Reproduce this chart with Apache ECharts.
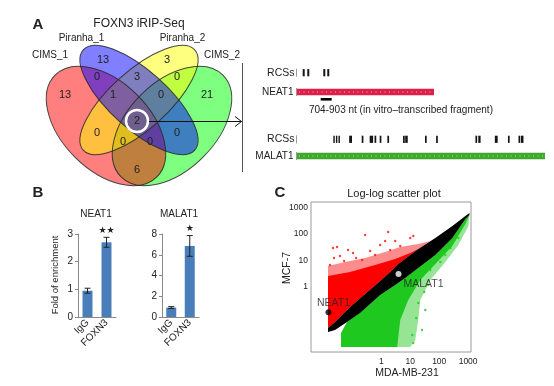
<!DOCTYPE html>
<html><head><meta charset="utf-8">
<script src="https://cdn.jsdelivr.net/npm/echarts@6/dist/echarts.min.js"></script>
<style>html,body{margin:0;padding:0;background:#fff}#c{width:554px;height:386px}</style>
</head><body><div id="c"></div>
<script>
// ================= DATA =================
// Panel A – Venn diagram (FOXN3 iRIP-Seq)
const vennTitle = 'FOXN3 iRIP-Seq';
const vennSetNames = ['CIMS_1', 'Piranha_1', 'Piranha_2', 'CIMS_2'];
// region keys: membership in [CIMS_1, Piranha_1, Piranha_2, CIMS_2]
const vennRegionKeys = ['1000','0100','0010','0001','1100','0110','0011','1110','0111','1111','1010','0101','1011','1101','1001'];
const vennRegionCounts = [13, 13, 3, 21, 0, 3, 0, 1, 0, 2, 0, 0, 0, 0, 6];

// Panel A – transcript tracks (positions in nt)
const trackGenes = ['NEAT1', 'MALAT1'];
const trackLengths = [4806, 8700];
const neat1RCS = [[200, 270], [361, 431], [922, 992], [1062, 1132]];
const malat1RCS = [[1275, 1325], [1365, 1415], [1455, 1505], [1830, 1930], [2270, 2330], [2550, 2670], [2720, 2780],
  [2900, 2960], [3170, 3230], [3720, 3780], [3795, 3885], [4490, 4550], [4880, 4940], [6260, 6320], [6360, 6440],
  [6940, 7040], [7400, 7460], [7770, 7830], [7855, 7945]];
const fragmentRange = [831, 1217];
const fragmentLabel = '704-903 nt (in vitro\u2013transcribed fragment)';
const rcsLabel = 'RCSs';

// Panel B – fold of enrichment
const ripCategories = ['IgG', 'FOXN3'];
const ripTitles = ['NEAT1', 'MALAT1'];
const neat1Fold = [0.95, 2.70];
const neat1Err = [0.09, 0.18];
const neat1Sig = ['', '\u2605\u2605'];
const malat1Fold = [0.91, 6.85];
const malat1Err = [0.09, 1.00];
const malat1Sig = ['', '\u2605'];
const neat1Axis = { min: 0, max: 3, interval: 1 };
const malat1Axis = { min: 0, max: 8, interval: 2 };

// Panel C – log-log scatter (log10 expression values)
const scatterTicks = [1, 10, 100, 1000];
const blackBand = [[-1.851,-1.541],[-1.608,-1.316],[-1.087,-0.752],[-0.566,-0.263],[-0.045,0.226],[0.302,0.564],[0.580,0.865],
  [1.274,1.429],[1.865,1.842],[2.455,2.293],[2.906,2.669],[3.045,2.782],[3.045,2.707],[2.906,2.556],[2.455,1.842],[1.865,1.203],
  [1.274,0.714],[0.823,0.338],[0.476,0.075],[-0.045,-0.301],[-0.740,-0.977],[-1.191,-1.316],[-1.608,-1.617],[-1.851,-1.692]];
const redOuter = [[-1.851,-1.617],[-1.851,0.789],[-1.260,0.940],[-0.566,1.090],[0.128,1.316],[0.649,1.504],[1.274,1.617],
  [1.691,1.729],[1.274,1.429],[0.580,0.865],[0.302,0.564],[-0.045,0.226],[-0.566,-0.263],[-1.087,-0.752],[-1.608,-1.316],[-1.851,-1.541]];
const redCore = [[-1.851,-1.617],[-1.851,0.414],[-1.087,0.564],[-0.219,0.827],[0.476,1.053],[0.997,1.278],[1.274,1.429],
  [0.580,0.865],[0.302,0.564],[-0.045,0.226],[-0.566,-0.263],[-1.087,-0.752],[-1.608,-1.316],[-1.851,-1.541]];
const greenOuter = [[-1.399,-2.256],[-1.399,-1.729],[-1.191,-1.316],[-0.740,-0.977],[-0.045,-0.301],[0.476,0.075],[0.823,0.338],
  [1.274,0.714],[1.865,1.203],[2.455,1.842],[2.906,2.556],[3.045,2.707],[3.010,2.293],[2.663,1.579],[2.212,0.940],[1.691,0.263],
  [1.344,-0.489],[1.274,-1.241],[1.170,-1.992],[0.997,-2.256]];
const greenCore = [[-1.399,-2.256],[-1.399,-1.729],[-1.191,-1.316],[-0.740,-0.977],[-0.045,-0.301],[0.476,0.075],[0.823,0.338],
  [1.274,0.714],[1.865,1.203],[2.455,1.842],[2.906,2.556],[3.045,2.707],[2.906,2.368],[2.455,1.541],[1.865,0.865],[1.344,0.263],
  [0.927,-0.489],[0.649,-1.241],[0.545,-2.256]];
const redSparse = [[-1.677,1.466],[-1.538,1.504],[-0.566,1.955],[-1.156,1.391],[-0.983,1.278],[-0.392,1.353],[-0.045,1.579],
  [0.128,1.729],[-1.434,1.165],[-0.670,1.015],[-1.781,0.827],[0.476,1.729],[0.997,1.842],[1.101,1.917],[-0.219,1.203],
  [-0.878,1.090],[-1.295,0.977],[0.302,1.391],[0.649,1.541],[-1.642,1.090],[0.233,2.068]];
const greenSparse = [[2.097,1.353],[1.865,0.977],[1.403,0.650],[1.274,-0.602],[1.403,-1.617],[1.101,-2.105],[1.622,0.075],
  [1.517,-0.865],[2.212,1.203],[2.385,1.466],[1.691,0.639],[1.205,-1.165],[1.483,-0.188],[1.066,-1.805],[2.663,1.842],[2.038,0.940]];
const highlightGenes = [{ name: 'NEAT1', value: [-1.835, -0.950] }, { name: 'MALAT1', value: [0.590, 0.489] }];
const scatterTitle = 'Log-log scatter plot';
const scatterXName = 'MDA-MB-231';
const scatterYName = 'MCF-7';

// ================= LAYOUT / STYLE =================
const FONT = '"Liberation Sans", Arial, Helvetica, sans-serif';
const TXT = '#222';
const vennEllipses = [ // drawing order
  { set: 3, cx: 172, cy: 126, rx: 72, ry: 44, rot: 45, color: 'rgba(0,255,0,0.5)' },
  { set: 0, cx: 106, cy: 126, rx: 72, ry: 44, rot: -45, color: 'rgba(255,0,0,0.5)' },
  { set: 2, cx: 139, cy: 100, rx: 75, ry: 29, rot: 42, color: 'rgba(255,255,0,0.5)' },
  { set: 1, cx: 139, cy: 100, rx: 75, ry: 29, rot: -42, color: 'rgba(0,0,255,0.5)' }
];
const vennSetLabelPos = [[50, 55], [81.5, 38], [182.5, 38], [222, 55]];
const vennRegionPos = [[65,95],[103,60],[167,60],[207,95],[97,77],[137,77],[177,77],[113,95],[161,95],[137,121],[97,133],[177,133],[123,142],[150,142],[137,170]];
const trackRowY = { rcs: [72.7, 139.3], gene: [92, 156], frag: 99.3, fragLabel: 110 };
const trackColors = ['#de1f4b', '#3fa92c'];
const trackDash = ['rgba(255,185,200,0.9)', 'rgba(185,235,165,0.9)'];

function txt(x, y, text, font, align, valign, extra) {
  return Object.assign({ type: 'text', x: x, y: y, silent: true,
    style: { text: text, font: font, fill: TXT, textAlign: align || 'center', textVerticalAlign: valign || 'middle',
             align: align || 'center', verticalAlign: valign || 'middle' } }, extra || {});
}

const graphics = [];
vennEllipses.forEach(e => graphics.push({ type: 'ellipse', x: e.cx, y: e.cy, rotation: e.rot * Math.PI / 180, silent: true,
  shape: { cx: 0, cy: 0, rx: e.rx, ry: e.ry }, style: { fill: e.color } }));
vennEllipses.forEach(e => graphics.push({ type: 'ellipse', x: e.cx, y: e.cy, rotation: e.rot * Math.PI / 180, silent: true,
  shape: { cx: 0, cy: 0, rx: e.rx, ry: e.ry }, style: { fill: 'none', stroke: 'rgba(40,40,40,0.85)', lineWidth: 1 } }));
vennRegionCounts.forEach((c, i) => graphics.push(txt(vennRegionPos[i][0], vennRegionPos[i][1], String(c), '11px ' + FONT)));
vennSetNames.forEach((n, i) => graphics.push(txt(vennSetLabelPos[i][0], vennSetLabelPos[i][1], n, '10px ' + FONT)));
graphics.push(txt(139, 24, vennTitle, '12px ' + FONT));
graphics.push(txt(38, 25, 'A', 'bold 15px ' + FONT));
graphics.push(txt(38, 193, 'B', 'bold 15px ' + FONT));
graphics.push(txt(280, 193, 'C', 'bold 15px ' + FONT));
graphics.push({ type: 'circle', silent: true, shape: { cx: 137, cy: 121, r: 11 }, style: { fill: 'none', stroke: '#fff', lineWidth: 2.5 } });
graphics.push({ type: 'line', silent: true, shape: { x1: 149, y1: 121.5, x2: 241.5, y2: 121.5 }, style: { stroke: '#111', lineWidth: 1 } });
graphics.push({ type: 'polyline', silent: true, shape: { points: [[235, 116.5], [241.5, 121.5], [235, 126.5]] }, style: { fill: 'none', stroke: '#111', lineWidth: 1 } });
graphics.push({ type: 'line', silent: true, shape: { x1: 242.5, y1: 63, x2: 242.5, y2: 172 }, style: { stroke: '#555', lineWidth: 1 } });
trackGenes.forEach((g, i) => {
  graphics.push(txt(294.5, trackRowY.rcs[i], rcsLabel, '10.5px ' + FONT, 'right'));
  graphics.push(txt(293.5, trackRowY.gene[i], g, '10px ' + FONT, 'right'));
  [trackRowY.rcs[i], trackRowY.gene[i]].forEach(y => graphics.push({ type: 'line', silent: true,
    shape: { x1: 296.5, y1: y - 4, x2: 296.5, y2: y + 4 }, style: { stroke: '#999', lineWidth: 1 } }));
});
graphics.push(txt(309, trackRowY.fragLabel, fragmentLabel, '10px ' + FONT, 'left'));
graphics.push(txt(96, 214, ripTitles[0], '10px ' + FONT));
graphics.push(txt(179, 214, ripTitles[1], '10px ' + FONT));
graphics.push(txt(55, 275, 'Fold of enrichment', '9.5px ' + FONT, 'center', 'middle', { rotation: Math.PI / 2 }));
graphics.push(txt(394, 194, scatterTitle, '11px ' + FONT));
graphics.push(txt(407, 373, scatterXName, '10.5px ' + FONT));
graphics.push(txt(287, 268, scatterYName, '10.5px ' + FONT, 'center', 'middle', { rotation: Math.PI / 2 }));

// ================= SERIES HELPERS =================
function errSeries(idx, vals, errs, sig) {
  return { type: 'custom', xAxisIndex: idx, yAxisIndex: idx, z: 5, silent: true,
    data: vals.map((v, i) => [i, v - errs[i], v + errs[i]]), encode: { x: 0, y: [1, 2] },
    renderItem: (params, api) => {
      const i = api.value(0);
      const lo = api.coord([i, api.value(1)]), hi = api.coord([i, api.value(2)]);
      const x = lo[0], cap = 3, st = { stroke: '#222', lineWidth: 1 };
      const ch = [
        { type: 'line', shape: { x1: x, y1: lo[1], x2: x, y2: hi[1] }, style: st },
        { type: 'line', shape: { x1: x - cap, y1: lo[1], x2: x + cap, y2: lo[1] }, style: st },
        { type: 'line', shape: { x1: x - cap, y1: hi[1], x2: x + cap, y2: hi[1] }, style: st }];
      const s = sig[params.dataIndex];
      if (s) ch.push({ type: 'text', x: x, y: hi[1] - 7, style: { text: s, font: '9px "DejaVu Sans"', fill: '#222',
        textAlign: 'center', textVerticalAlign: 'middle', align: 'center', verticalAlign: 'middle' } });
      return { type: 'group', children: ch };
    } };
}
function polySeries(points, color, opacity) {
  return { type: 'custom', xAxisIndex: 2, yAxisIndex: 2, silent: true, data: [[0, 0]], encode: { x: 0, y: 1 },
    renderItem: (params, api) => ({ type: 'polygon', shape: { points: points.map(p => api.coord(p)) },
      style: { fill: color, opacity: opacity } }) };
}
const barAxisX = (idx) => ({ type: 'category', gridIndex: idx, data: ripCategories,
  axisLine: { lineStyle: { color: '#8a8a8a' } }, axisTick: { show: false },
  axisLabel: { rotate: 45, interval: 0, fontSize: 10, color: TXT, margin: 4, fontFamily: FONT } });
const barAxisY = (idx, ax) => ({ type: 'value', gridIndex: idx, min: ax.min, max: ax.max, interval: ax.interval,
  axisLine: { show: true, lineStyle: { color: '#8a8a8a' } }, axisTick: { show: true, length: 3, lineStyle: { color: '#8a8a8a' } },
  splitLine: { show: false }, axisLabel: { fontSize: 10, color: TXT, margin: 5, fontFamily: FONT } });
const logLabel = { fontSize: 8.5, color: TXT, fontFamily: FONT, customValues: scatterTicks.map(Math.log10),
  formatter: v => String(Math.round(Math.pow(10, v))) };

const option = {
  animation: false,
  backgroundColor: '#fff',
  textStyle: { fontFamily: FONT },
  grid: [
    { left: 78, top: 234, width: 38, height: 83 },
    { left: 162, top: 234, width: 37, height: 83 },
    { left: 311, top: 202, width: 160, height: 150, show: true, borderColor: '#9a9a9a', borderWidth: 1, backgroundColor: '#fff' },
    { left: 297, top: 60, width: 248, height: 110 }
  ],
  xAxis: [
    barAxisX(0), barAxisX(1),
    { type: 'value', gridIndex: 2, min: -2.44, max: 3.10, axisLine: { show: false }, axisTick: { show: false },
      splitLine: { show: false }, axisLabel: Object.assign({ margin: 5 }, logLabel) },
    { type: 'value', gridIndex: 3, min: 0, max: 8700, show: false }
  ],
  yAxis: [
    barAxisY(0, neat1Axis), barAxisY(1, malat1Axis),
    { type: 'value', gridIndex: 2, min: -2.444, max: 3.195, axisLine: { show: false }, axisTick: { show: false },
      splitLine: { show: false }, axisLabel: Object.assign({ margin: 3 }, logLabel) },
    { type: 'value', gridIndex: 3, min: 0, max: 1, show: false }
  ],
  series: [
    { type: 'bar', xAxisIndex: 0, yAxisIndex: 0, data: neat1Fold, barWidth: 10, itemStyle: { color: '#4a7ebb' }, silent: true },
    { type: 'bar', xAxisIndex: 1, yAxisIndex: 1, data: malat1Fold, barWidth: 10, itemStyle: { color: '#4a7ebb' }, silent: true },
    errSeries(0, neat1Fold, neat1Err, neat1Sig),
    errSeries(1, malat1Fold, malat1Err, malat1Sig),
    polySeries(greenOuter, '#2ccc2c', 0.5),
    polySeries(greenCore, '#1ec81e', 1),
    polySeries(redOuter, '#ff1a1a', 0.5),
    polySeries(redCore, '#ff0000', 1),
    { type: 'scatter', xAxisIndex: 2, yAxisIndex: 2, data: redSparse, symbolSize: 2.4, itemStyle: { color: '#ff1010' }, silent: true },
    { type: 'scatter', xAxisIndex: 2, yAxisIndex: 2, data: greenSparse, symbolSize: 2.4, itemStyle: { color: '#1ec81e' }, silent: true },
    polySeries(blackBand, '#000', 1),
    { type: 'scatter', xAxisIndex: 2, yAxisIndex: 2, silent: true, z: 6,
      data: [
        { name: highlightGenes[0].name, value: highlightGenes[0].value, symbolSize: 6, itemStyle: { color: '#000' },
          label: { show: true, position: 'top', distance: 1, offset: [5, 0] } },
        { name: highlightGenes[1].name, value: highlightGenes[1].value, symbolSize: 6, itemStyle: { color: '#fff' },
          label: { show: true, position: 'right', distance: 2, offset: [0, 10] } }
      ],
      label: { formatter: p => p.name, fontSize: 10.5, color: TXT, fontFamily: FONT } },
    { type: 'custom', xAxisIndex: 3, yAxisIndex: 3, silent: true,
      data: trackGenes.map((g, i) => [0, trackLengths[i], i]), encode: { x: [0, 1] },
      renderItem: (params, api) => {
        const i = api.value(2);
        const x0 = api.coord([api.value(0), 0])[0], x1 = api.coord([api.value(1), 0])[0];
        const y = trackRowY.gene[i];
        return { type: 'group', children: [
          { type: 'rect', shape: { x: x0, y: y - 3.2, width: x1 - x0, height: 6.4 }, style: { fill: trackColors[i] } },
          { type: 'line', shape: { x1: x0 + 2, y1: y, x2: x1 - 1, y2: y }, style: { stroke: trackDash[i], lineWidth: 1, lineDash: [1, 3.5] } }
        ] };
      } },
    { type: 'custom', xAxisIndex: 3, yAxisIndex: 3, silent: true,
      data: neat1RCS.map(r => [r[0], r[1], 0]).concat(malat1RCS.map(r => [r[0], r[1], 1])), encode: { x: [0, 1] },
      renderItem: (params, api) => {
        const x0 = api.coord([api.value(0), 0])[0], x1 = api.coord([api.value(1), 0])[0];
        const y = trackRowY.rcs[api.value(2)];
        return { type: 'rect', shape: { x: x0, y: y - 3.6, width: Math.max(1.2, x1 - x0), height: 7.2 }, style: { fill: '#151515' } };
      } },
    { type: 'custom', xAxisIndex: 3, yAxisIndex: 3, silent: true, data: [fragmentRange], encode: { x: [0, 1] },
      renderItem: (params, api) => {
        const x0 = api.coord([api.value(0), 0])[0], x1 = api.coord([api.value(1), 0])[0];
        return { type: 'rect', shape: { x: x0, y: trackRowY.frag - 1.3, width: x1 - x0, height: 2.6 }, style: { fill: '#000' } };
      } }
  ],
  graphic: graphics
};
const chart = echarts.init(document.getElementById('c'), null, { renderer: 'canvas' });
chart.setOption(option);
</script></body></html>
